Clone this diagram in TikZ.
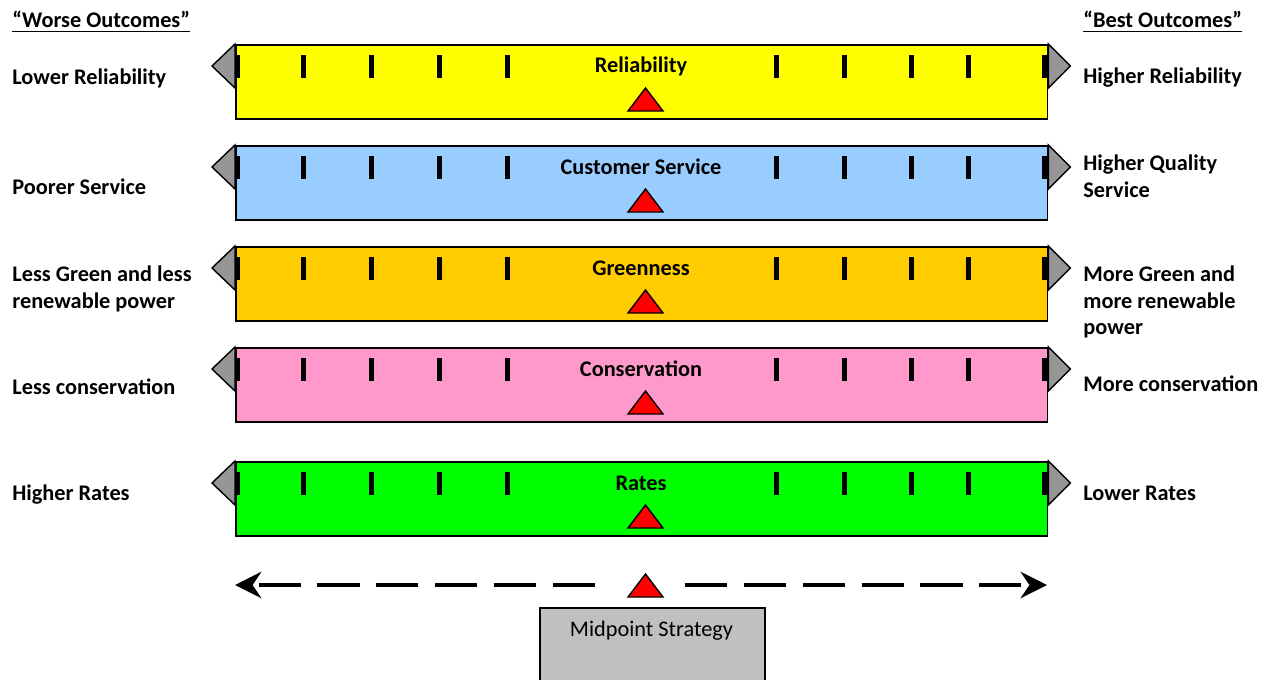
\documentclass[tikz,border=0pt]{standalone}
\usepackage{fontspec}
\setmainfont{Carlito}
\usetikzlibrary{positioning,arrows.meta}

\definecolor{relyellow}{HTML}{FFFF00}
\definecolor{servblue}{HTML}{99CCFF}
\definecolor{greenorange}{HTML}{FFCC00}
\definecolor{conspink}{HTML}{FF99CC}
\definecolor{ratesgreen}{HTML}{00FF00}
\definecolor{capgrey}{HTML}{969696}
\definecolor{boxgrey}{HTML}{C0C0C0}

\tikzset{
  bar/.style={draw, line width=0.9pt, minimum width=16.24cm, minimum height=1.48cm, inner sep=0pt},
  bartitle/.style={font=\fontsize{12.7}{15.3}\selectfont\bfseries},
  sidelbl/.style={font=\fontsize{12.7}{15.3}\selectfont\bfseries, anchor=west, align=left, inner sep=0pt},
  endcap/.style={draw, fill=capgrey, line width=0.8pt, line join=miter},
  midmark/.style={draw, fill=red, line width=0.8pt, line join=miter},
  dasharrow/.style={line width=2.8pt, dash pattern=on 24pt off 9.5pt, -{Stealth[length=15pt, width=15pt, inset=5pt]}},
}

\begin{document}
\begin{tikzpicture}[x=0.02cm, y=-0.02cm]
\clip (0,0) rectangle (1273,679);
\fill[white] (0,0) rectangle (1273,679);

% column heads
\node[sidelbl, text depth=2.5pt] (worse) at (12,21) {“Worse Outcomes”};
\node[sidelbl, text depth=2.5pt] (best) at (1083,21) {“Best Outcomes”};
\draw[line width=0.7pt] (worse.south west) -- (worse.south east);
\draw[line width=0.7pt] (best.south west) -- (best.south east);

% the five bars
\foreach \nm/\t/\col/\txt in {rel/44/relyellow/Reliability,
                              serv/145/servblue/Customer Service,
                              green/246/greenorange/Greenness,
                              cons/347/conspink/Conservation,
                              rates/461/ratesgreen/Rates} {
  \node[bar, fill=\col, anchor=north west] (\nm) at (235,\t) {};
  \draw[endcap] (\nm.north west) -- ++(-23,22) -- ++(23,22) -- cycle;
  \draw[endcap] (\nm.north east) -- ++(22,22) -- ++(-22,22) -- cycle;
  \foreach \dx in {0,66,134,202,270,539,607,674,731,807}
    \fill (235+\dx,\t+11) rectangle ++(5,23);
  \node[bartitle] (\nm-title) at (641,\t+22) {\txt};
  \draw[midmark] (628,\t+67) -- (663,\t+67) -- (645.5,\t+44) -- cycle;
}

% worse side
\node[sidelbl] (relL) at (12,78) {Lower Reliability};
\node[sidelbl] (servL) at (12,187) {Poorer Service};
\node[sidelbl] (greenL) at (12,288.5) {Less Green and less\\renewable power};
\node[sidelbl] (consL) at (12,387) {Less conservation};
\node[sidelbl] (ratesL) at (12,495) {Higher Rates};

% best side
\node[sidelbl] (relR) at (1083,78) {Higher Reliability};
\node[sidelbl] (servR) at (1083,176.5) {Higher Quality\\Service};
\node[sidelbl] (greenR) at (1083,302) {More Green and\\more renewable\\power};
\node[sidelbl] (consR) at (1083,384) {More conservation};
\node[sidelbl] (ratesR) at (1083,493) {Lower Rates};

% strategy scale
\coordinate (arrL) at (235,585);
\coordinate (arrR) at (1047,585);
\coordinate (gapL) at (595,585);
\coordinate (gapR) at (685,585);
\draw[dasharrow] (gapL) -- (arrL);
\draw[dasharrow] (gapR) -- (arrR);
\draw[midmark] (628,597) -- (663,597) -- (645.5,574) -- cycle;

\node[draw, fill=boxgrey, line width=0.9pt, anchor=north west, minimum width=4.5cm, minimum height=2cm] (mid) at (539,607) {};
\node[font=\fontsize{12.7}{15.3}\selectfont] (midtxt) at (651.5,631) {Midpoint Strategy};
\end{tikzpicture}
\end{document}
